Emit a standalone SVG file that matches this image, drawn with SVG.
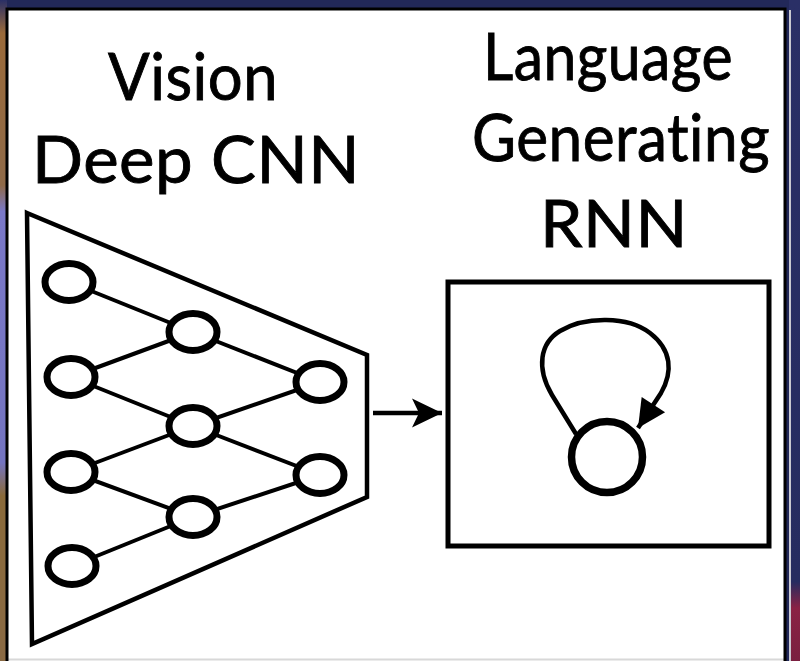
<svg xmlns="http://www.w3.org/2000/svg" width="800" height="661" viewBox="0 0 800 661">
<style>
.lbl{font-family:Lato,"Open Sans","Liberation Sans",sans-serif;font-size:66px;fill:#000;stroke:#000;stroke-width:0.9px;letter-spacing:0.5px;font-variant-ligatures:none;font-feature-settings:"liga" 0,"clig" 0}
.nn{fill:#fff;stroke:#000;stroke-width:7}
.edge{stroke:#000;stroke-width:4;fill:none}
.frame{fill:none;stroke:#000}
</style>
<defs>
<linearGradient id="leftStrip" x1="0" y1="0" x2="0" y2="1">
<stop offset="0" stop-color="#2a2f66"/>
<stop offset="0.05" stop-color="#9a6a3a"/>
<stop offset="0.28" stop-color="#8f6a48"/>
<stop offset="0.32" stop-color="#7a78c8"/>
<stop offset="0.7" stop-color="#7474c0"/>
<stop offset="0.75" stop-color="#8a6a3a"/>
<stop offset="1" stop-color="#8a6a44"/>
</linearGradient>
<linearGradient id="rightStrip" x1="0" y1="0" x2="0" y2="1">
<stop offset="0" stop-color="#2a2f66"/>
<stop offset="0.88" stop-color="#262c60"/>
<stop offset="0.92" stop-color="#8a2244"/>
<stop offset="1" stop-color="#7a2040"/>
</linearGradient>
<marker id="arrowMain" markerUnits="userSpaceOnUse" markerWidth="34" markerHeight="32" viewBox="0 0 34 32" refX="31" refY="16" orient="auto">
<path d="M1,1.5 L31,16 L1,30.5 L8,16 Z" fill="#000"/>
</marker>
<marker id="arrowLoop" markerUnits="userSpaceOnUse" markerWidth="32" markerHeight="32" viewBox="0 0 32 32" refX="29" refY="16" orient="auto">
<path d="M1,2 L29,16 L1,30 Z" fill="#000"/>
</marker>
</defs>
<rect x="0" y="0" width="800" height="661" fill="#222859"/>
<rect x="0" y="0" width="7" height="661" fill="url(#leftStrip)"/>
<rect x="789" y="0" width="11" height="661" fill="url(#rightStrip)"/>
<rect x="7" y="9" width="778" height="660" fill="#fff"/>
<line x1="7" y1="659.5" x2="785" y2="659.5" stroke="#d8d8d8" stroke-width="2"/>
<line x1="790" y1="10" x2="790" y2="661" stroke="#c8c8d0" stroke-width="2"/>
<rect class="frame" x="7" y="9" width="778" height="660" stroke-width="3"/>

<g id="title-vision">
<text class="lbl" x="108" y="100" textLength="170" lengthAdjust="spacingAndGlyphs">Vision</text>
<text class="lbl" x="32" y="183" textLength="328" lengthAdjust="spacingAndGlyphs">Deep CNN</text>
</g>
<g id="title-language">
<text class="lbl" x="483" y="80" textLength="250" lengthAdjust="spacingAndGlyphs">Language</text>
<text class="lbl" x="472" y="161" textLength="298" lengthAdjust="spacingAndGlyphs">Generating</text>
<text class="lbl" x="540" y="247" textLength="148" lengthAdjust="spacingAndGlyphs">RNN</text>
</g>

<g id="cnn">
<polygon class="frame" points="27,213 367,355 367,497 32,644" stroke-width="4.5" stroke-linejoin="miter"/>
</g>

<g id="connectors">
<line class="edge" x1="69" y1="282" x2="193" y2="332"/>
<line class="edge" x1="71" y1="377" x2="193" y2="332"/>
<line class="edge" x1="71" y1="377" x2="193" y2="426"/>
<line class="edge" x1="71" y1="472" x2="193" y2="426"/>
<line class="edge" x1="71" y1="472" x2="193" y2="517"/>
<line class="edge" x1="72" y1="566" x2="193" y2="517"/>
<line class="edge" x1="193" y1="332" x2="320" y2="382"/>
<line class="edge" x1="193" y1="426" x2="320" y2="382"/>
<line class="edge" x1="193" y1="426" x2="320" y2="475"/>
<line class="edge" x1="193" y1="517" x2="320" y2="475"/>
<line x1="373" y1="413" x2="442" y2="413" stroke="#000" stroke-width="4.5" marker-end="url(#arrowMain)"/>
<path d="M576,434 L552,395 C536,368 540,343 560,331 C585,316 628,316 650,333 C672,350 673,372 661,393 L638,428" fill="none" stroke="#000" stroke-width="4.5" marker-end="url(#arrowLoop)"/>
</g>

<g id="cnn-l1-n1"><ellipse class="nn" cx="69" cy="282" rx="24" ry="18.5"/></g>
<g id="cnn-l1-n2"><ellipse class="nn" cx="71" cy="377" rx="24" ry="18.5"/></g>
<g id="cnn-l1-n3"><ellipse class="nn" cx="71" cy="472" rx="24" ry="18.5"/></g>
<g id="cnn-l1-n4"><ellipse class="nn" cx="72" cy="566" rx="24" ry="18.5"/></g>
<g id="cnn-l2-n1"><ellipse class="nn" cx="193" cy="332" rx="24" ry="18.5"/></g>
<g id="cnn-l2-n2"><ellipse class="nn" cx="193" cy="426" rx="24" ry="18.5"/></g>
<g id="cnn-l2-n3"><ellipse class="nn" cx="193" cy="517" rx="24" ry="18.5"/></g>
<g id="cnn-l3-n1"><ellipse class="nn" cx="320" cy="382" rx="24" ry="18.5"/></g>
<g id="cnn-l3-n2"><ellipse class="nn" cx="320" cy="475" rx="24" ry="18.5"/></g>

<g id="rnn">
<rect class="frame" x="448" y="282" width="321" height="264" stroke-width="5"/>
</g>
<g id="rnn-unit">
<circle cx="607" cy="457" r="35.5" fill="#fff" stroke="#000" stroke-width="7.5"/>
</g>
</svg>
